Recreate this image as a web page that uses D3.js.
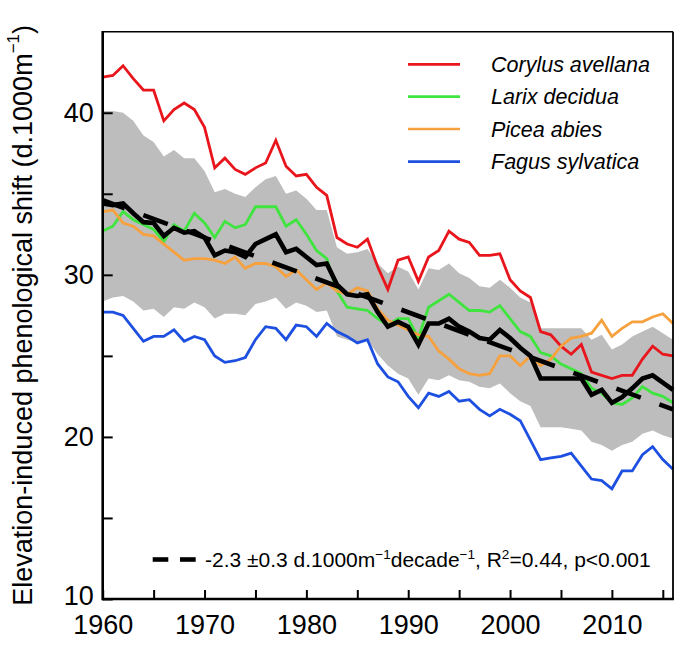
<!DOCTYPE html>
<html><head><meta charset="utf-8">
<script src="https://cdn.jsdelivr.net/npm/d3@7"></script>
<style>
html,body{margin:0;padding:0;background:#fff;}
svg{display:block;}
text{font-family:"Liberation Sans",Arial,Helvetica,sans-serif;fill:#000;}
</style></head>
<body>
<svg id="chart" width="677" height="646"></svg>
<script>
const years = [1960,1961,1962,1963,1964,1965,1966,1967,1968,1969,1970,1971,1972,1973,1974,1975,1976,1977,1978,1979,
  1980,1981,1982,1983,1984,1985,1986,1987,1988,1989,1990,1991,1992,1993,1994,1995,1996,1997,1998,1999,
  2000,2001,2002,2003,2004,2005,2006,2007,2008,2009,2010,2011,2012,2013,2014,2015,2016];

const corylus = [42.2,42.3,42.9,42.1,41.4,41.4,39.5,40.2,40.6,40.2,39.1,36.6,37.2,36.5,36.2,36.6,36.9,38.3,36.7,36.1,
  36.2,35.4,34.9,32.3,31.9,31.7,32.2,30.5,29.1,30.9,31.1,29.6,31.1,31.5,32.7,32.2,32.0,31.2,31.2,31.3,
  29.7,29.0,28.6,26.5,26.3,25.6,25.1,25.7,24.0,23.8,23.6,23.8,23.8,24.8,25.6,25.1,25.0];

const larix = [32.7,33.0,33.9,33.4,33.1,32.8,32.05,33.1,32.7,33.8,33.2,32.3,33.3,32.9,33.1,34.2,34.2,34.2,33.0,33.4,
  32.5,31.5,31.0,29.0,28.0,27.9,27.8,27.3,26.9,27.3,27.3,26.1,28.0,28.4,28.8,28.3,27.8,27.8,27.7,28.1,
  27.3,26.5,26.2,25.2,25.0,24.5,24.2,23.9,23.0,22.7,22.1,22.0,22.4,23.1,22.7,22.5,22.1];

const picea = [33.9,34.0,33.2,33.0,32.5,32.4,31.9,31.4,30.9,31.0,31.0,30.9,30.7,31.1,30.4,30.7,30.7,30.5,29.9,30.3,
  29.7,29.1,29.5,29.0,28.8,29.2,29.0,27.9,27.2,26.9,26.6,26.3,26.2,25.3,24.8,24.2,23.9,23.8,23.9,25.0,
  25.0,24.4,25.0,24.4,24.8,25.6,26.1,26.2,26.4,27.2,26.2,26.7,27.1,27.1,27.4,27.6,27.0];

const fagus = [27.7,27.7,27.5,26.7,25.9,26.2,26.2,26.6,25.9,26.2,26.0,25.0,24.6,24.7,24.9,26.0,26.8,26.7,26.0,26.9,
  26.8,26.2,27.0,26.5,26.2,25.8,26.0,24.5,23.7,23.4,22.5,21.8,22.7,22.5,22.8,22.2,22.3,21.7,21.3,21.7,
  21.4,21.0,19.8,18.6,18.7,18.8,19.0,18.2,17.4,17.3,16.8,17.9,17.9,18.9,19.4,18.6,18.0];

const meanShift = [34.4,34.3,34.4,33.8,33.25,33.2,32.4,32.9,32.6,32.7,32.3,31.2,31.5,31.4,31.1,31.9,32.2,32.5,31.4,31.6,
  31.1,30.6,30.7,29.4,28.8,28.7,28.8,27.7,26.8,27.1,26.8,25.7,27.0,27.0,27.3,26.8,26.5,26.1,26.0,26.6,
  26.1,25.5,25.0,23.6,23.6,23.6,23.6,23.6,22.6,22.9,22.1,22.45,23.0,23.6,23.8,23.35,22.9];

const bandUpper = [40.1,40.1,40.0,39.5,38.6,38.2,37.3,37.7,37.2,37.2,36.4,35.1,35.3,35.0,34.8,35.4,35.9,36.1,35.0,35.2,
  34.7,34.0,34.0,31.7,31.3,31.4,31.6,30.7,30.1,30.5,30.2,29.1,30.4,30.3,30.7,30.1,29.8,29.3,29.2,29.7,
  29.2,28.6,28.3,26.7,26.7,26.7,26.7,26.7,26.0,26.3,25.4,25.7,26.2,26.5,26.8,26.4,26.0];

const bandLower = [28.35,28.6,28.7,28.35,27.8,27.9,27.4,28.0,27.9,28.3,28.0,27.3,27.6,27.6,27.5,28.2,28.35,28.6,27.9,28.3,
  28.1,27.7,27.8,26.2,26.0,25.8,26.0,25.1,24.4,23.9,23.6,22.6,23.6,23.5,23.8,23.5,23.4,23.1,23.0,23.3,
  22.7,22.2,21.9,20.6,20.6,20.6,20.5,20.4,19.7,19.5,19.15,19.5,19.7,20.2,20.4,20.1,19.9];

const trendYears = [1960, 2016];
const trendValues = [34.6, 21.7];

const speciesNames = ["Corylus avellana","Larix decidua","Picea abies","Fagus sylvatica"];
const speciesColors = ["#e8161c","#3fe43f","#f6a13e","#1d4fe0"];
const speciesValues = [corylus, larix, picea, fagus];

const yTickValues = [10,15,20,25,30,35,40];
const yLabelValues = [10,20,30,40];
const xTickValues = [1960,1965,1970,1975,1980,1985,1990,1995,2000,2005,2010,2015];
const xLabelValues = [1960,1970,1980,1990,2000,2010];

const yTitle = "Elevation-induced phenological shift (d.1000m";
const fitLabel = [["-2.3 \u00B10.3 d.1000m",false],["\u22121",true],["decade",false],["\u22121",true],[", R",false],["2",true],["=0.44, p<0.001",false]];

// ---------- drawing ----------
const svg = d3.select("#chart");
const L = 102.7, R = 673, T = 31.7, B = 599;
const x = d3.scaleLinear().domain([1960, 2016]).range([L, R]);
const y = d3.scaleLinear().domain([10, 45]).range([B, T]);

// band
const area = d3.area().x((d,i)=>x(years[i])).y0((d,i)=>y(bandLower[i])).y1((d,i)=>y(bandUpper[i]));
svg.append("path").datum(years).attr("d", area).attr("fill", "#bdbdbd");

const line = vals => d3.line().x((d,i)=>x(years[i])).y((d,i)=>y(vals[i]))(years);

speciesValues.forEach((vals,k) => {
  svg.append("path").attr("d", line(vals)).attr("fill","none")
    .attr("stroke",speciesColors[k]).attr("stroke-width",2.8).attr("stroke-linejoin","miter");
});

// mean line
svg.append("path").attr("d", line(meanShift)).attr("fill","none")
  .attr("stroke","#000").attr("stroke-width",4.6).attr("stroke-linejoin","miter");

// trend dashed
const trendLine = d3.line().x((d,i)=>x(trendYears[i])).y((d,i)=>y(trendValues[i]));
svg.append("path").attr("d", trendLine(trendYears)).attr("fill","none")
  .attr("stroke","#000").attr("stroke-width",4.6)
  .attr("stroke-dasharray","26,19.8").attr("stroke-dashoffset",2.5);

// axes
const yAxis = d3.axisLeft(y).tickValues(yTickValues).tickSize(-10).tickPadding(9)
  .tickFormat(v => yLabelValues.includes(v) ? String(v) : "");
const gy = svg.append("g").attr("transform",`translate(${L},0)`).call(yAxis);
gy.select(".domain").remove();
gy.selectAll(".tick line").attr("stroke","#000").attr("stroke-width",2);
gy.selectAll(".tick text").attr("font-size",27).attr("font-family",null);
gy.selectAll(".tick text").filter(v => v === 10).attr("dy","0.2em");

const xAxis = d3.axisBottom(x).tickValues(xTickValues).tickSize(-9).tickPadding(16)
  .tickFormat(v => xLabelValues.includes(v) ? String(v) : "");
const gx = svg.append("g").attr("transform",`translate(0,${B})`).call(xAxis);
gx.select(".domain").remove();
gx.selectAll(".tick line").attr("stroke","#000").attr("stroke-width",2);
gx.selectAll(".tick text").attr("font-size",27).attr("font-family",null);

// frame
svg.append("line").attr("x1",L).attr("x2",R).attr("y1",T).attr("y2",T).attr("stroke","#000").attr("stroke-width",1.6);
svg.append("line").attr("x1",R).attr("x2",R).attr("y1",T).attr("y2",B).attr("stroke","#000").attr("stroke-width",1.8);
svg.append("line").attr("x1",L).attr("x2",R+0.9).attr("y1",B).attr("y2",B).attr("stroke","#000").attr("stroke-width",2.6);
svg.append("line").attr("x1",L).attr("x2",L).attr("y1",T-0.8).attr("y2",B+1.3).attr("stroke","#000").attr("stroke-width",2.6);

// y title
const yt = svg.append("text").attr("transform",`translate(23,${(T+B)/2}) rotate(-90)`)
  .attr("text-anchor","middle").attr("dominant-baseline","central").attr("font-size",27);
yt.append("tspan").text(yTitle);
yt.append("tspan").text("\u22121").attr("font-size",17).attr("dy",-10);
yt.append("tspan").text(")").attr("dy",10);

// legend
const legY = [64.3, 96.7, 129, 161.7];
speciesNames.forEach((name,k) => {
  svg.append("line").attr("x1",408).attr("x2",460).attr("y1",legY[k]).attr("y2",legY[k])
    .attr("stroke",speciesColors[k]).attr("stroke-width",2.7);
  svg.append("text").attr("x",491).attr("y",legY[k]+7.5).attr("font-size",21.5)
    .attr("font-style","italic").text(name);
});

// fit annotation
svg.append("line").attr("x1",152.7).attr("x2",168.3).attr("y1",559.5).attr("y2",559.5).attr("stroke","#000").attr("stroke-width",4.6);
svg.append("line").attr("x1",180).attr("x2",195.7).attr("y1",559.5).attr("y2",559.5).attr("stroke","#000").attr("stroke-width",4.6);
const ft = svg.append("text").attr("x",205).attr("y",566.7).attr("font-size",21);
let prevSup = false;
fitLabel.forEach(([s,sup]) => {
  const t = ft.append("tspan").text(s);
  if (sup && !prevSup) t.attr("dy",-8).attr("font-size",13.5);
  else if (!sup && prevSup) t.attr("dy",8);
  prevSup = sup;
});
</script>
</body></html>
